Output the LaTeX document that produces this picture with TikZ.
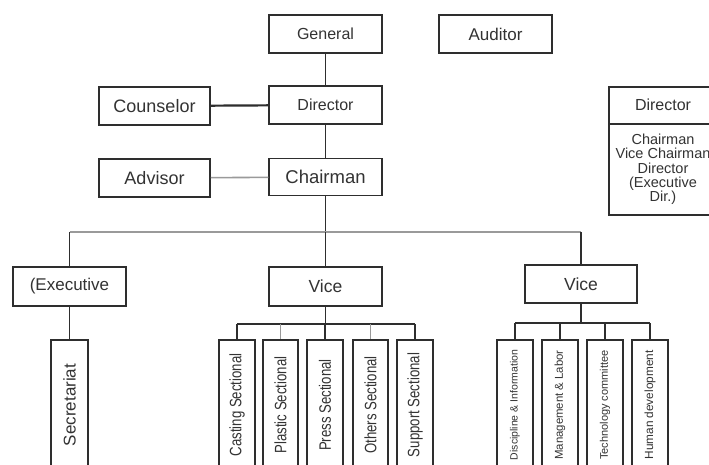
\documentclass[tikz,border=0pt]{standalone}
\usepackage{fontspec}
\setmainfont{Liberation Sans}
\definecolor{boxc}{HTML}{2E2E2E}
\definecolor{txt}{HTML}{333333}
\definecolor{lgray}{HTML}{9A9A9A}
\tikzset{
  box/.style={draw=boxc, line width=1.5pt, fill=white, minimum width=113pt,
    minimum height=38pt, inner sep=0pt, text=txt, font=\fontsize{17}{20}\selectfont},
  vbox/.style={draw=boxc, line width=1.5pt, fill=white, rotate=90,
    minimum width=130pt, minimum height=36pt, inner sep=0pt, text=txt},
  midtext/.style={font=\fontsize{16.5}{18}\selectfont},
  smalltext/.style={font=\fontsize{11}{12}\selectfont},
  link/.style={draw=boxc, line width=1.1pt},
  glink/.style={draw=lgray, line width=1.6pt}
}
\begin{document}
\begin{tikzpicture}[x=1pt,y=-1pt]
\useasboundingbox (0,0) rectangle (709,464);
\clip (0,0) rectangle (709,464);
\fill[white] (0,0) rectangle (709,464);
% top level
\node[box, font=\fontsize{16}{18}\selectfont] (general) at (325.5,34) {General};
\node[box] (auditor) at (495.5,34) {Auditor};
\node[box, font=\fontsize{16}{18}\selectfont] (director) at (325.5,105) {Director};
\node[box, minimum width=111pt, font=\fontsize{18}{20}\selectfont] (counselor) at (154.5,106) {Counselor};
\node[box, minimum width=111pt, font=\fontsize{18}{20}\selectfont] (advisor) at (154.5,178) {Advisor};
\node[box, minimum height=37pt, font=\fontsize{18.5}{20}\selectfont] (chairman) at (325.5,177) {Chairman};
% legend
\node[draw=boxc, line width=1.5pt, minimum width=108pt, minimum height=128pt, inner sep=0pt] (legend) at (663,151) {};
\coordinate (ldiv) at (0,124);
\draw[boxc, line width=1.2pt] (legend.west |- ldiv) -- (legend.east |- ldiv);
\node[text=txt, font=\fontsize{16}{18}\selectfont] (legtitle) at (663,105) {Director};
\node[text=txt, align=center, font=\fontsize{14.5}{14.3}\selectfont] (legbody) at (663,169.5)
  {Chairman\\Vice Chairman\\Director\\(Executive\\Dir.)};
% second level
\node[box, minimum height=39pt] (exec) at (69.5,286.5) {(Executive};
\node[box, minimum height=39pt, font=\fontsize{17.5}{20}\selectfont] (vice1) at (325.5,286.5) {Vice};
\node[box, minimum width=112pt, font=\fontsize{17.5}{20}\selectfont] (vice2) at (581,284) {Vice};
% vertical boxes
\node[vbox, minimum height=37pt, font=\fontsize{17}{20}\selectfont] (secr) at (69.5,405) {Secretariat};
\node[vbox, midtext] (c1) at (237,405) {\scalebox{0.8}[1]{Casting Sectional}};
\node[vbox, midtext, minimum height=35pt] (c2) at (280.5,405) {\scalebox{0.8}[1]{Plastic Sectional}};
\node[vbox, midtext] (c3) at (325,405) {\scalebox{0.8}[1]{Press Sectional}};
\node[vbox, midtext, minimum height=35pt] (c4) at (370.5,405) {\scalebox{0.8}[1]{Others Sectional}};
\node[vbox, midtext] (c5) at (415,405) {\scalebox{0.8}[1]{Support Sectional}};
\node[vbox, smalltext, font=\fontsize{10.5}{12}\selectfont] (d1) at (515,405) {Discipline \& Information};
\node[vbox, smalltext, font=\fontsize{11.4}{12}\selectfont] (d2) at (560,405) {Management \& Labor};
\node[vbox, smalltext] (d3) at (605,405) {Technology committee};
\node[vbox, smalltext, font=\fontsize{11.8}{12}\selectfont] (d4) at (650,405) {Human development};
% connectors top
\draw[link] (general) -- (director);
\draw[link] (director) -- (chairman);
\draw[boxc, line width=2.2pt] (counselor) -- (director);
\draw[glink] (advisor) -- (chairman);
\coordinate (topbar) at (0,232);
\draw[link] (chairman.south) -- (chairman.south |- topbar);
\draw[glink] (exec.north |- topbar) -- (vice2.north |- topbar);
\draw[link] (exec.north |- topbar) -- (exec.north);
\draw[link] (vice1.north |- topbar) -- (vice1.north);
\draw[link] (vice2.north |- topbar) -- (vice2.north);
\draw[link] (exec.south) -- (secr.east);
% middle group
\coordinate (mbar) at (0,324);
\draw[link] (vice1.south) -- (vice1.south |- mbar);
\draw[link] (c1.east |- mbar) -- (c5.east |- mbar);
\draw[link] (c1.east |- mbar) -- (c1.east);
\draw[glink, line width=1.1pt] (c2.east |- mbar) -- (c2.east);
\draw[link] (c3.east |- mbar) -- (c3.east);
\draw[glink, line width=1.1pt] (c4.east |- mbar) -- (c4.east);
\draw[link] (c5.east |- mbar) -- (c5.east);
% right group
\coordinate (rbar) at (0,323);
\draw[link] (vice2.south) -- (vice2.south |- rbar);
\draw[link] (d1.east |- rbar) -- (d4.east |- rbar);
\draw[link] (d1.east |- rbar) -- (d1.east);
\draw[link] (d2.east |- rbar) -- (d2.east);
\draw[link] (d3.east |- rbar) -- (d3.east);
\draw[link] (d4.east |- rbar) -- (d4.east);
\end{tikzpicture}
\end{document}
